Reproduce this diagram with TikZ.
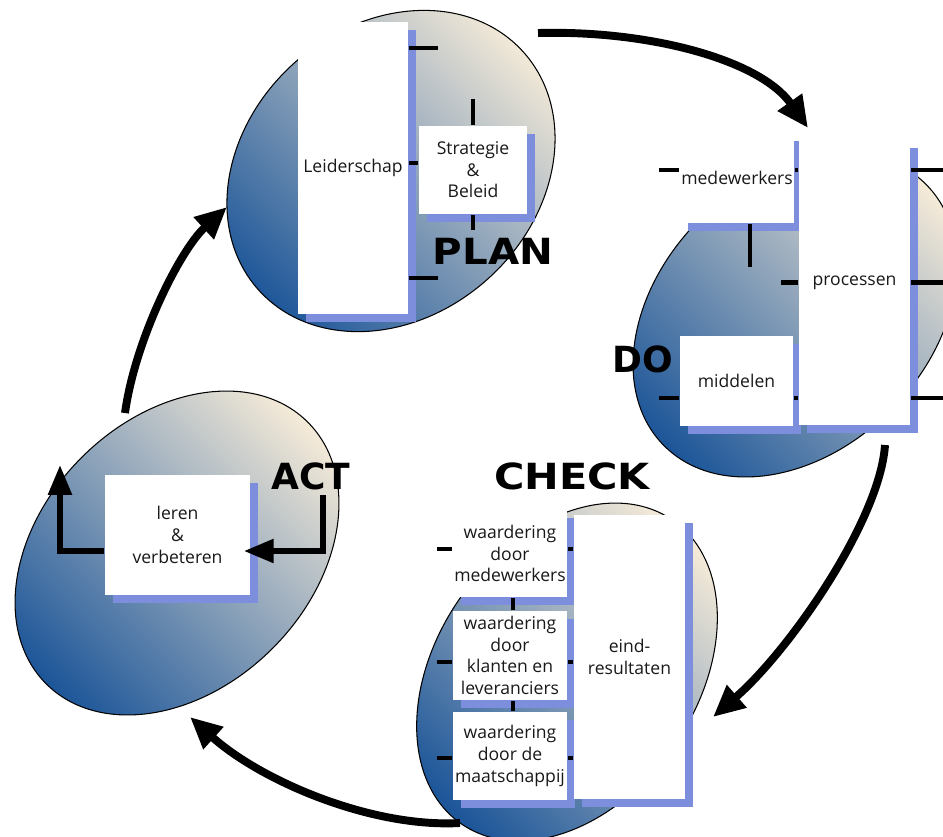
\documentclass[tikz,border=0pt]{standalone}
\usepackage{fontspec}
\usepackage{tikz}
\usetikzlibrary{arrows.meta, shadows}
\newfontfamily\boxfont{Open Sans}
\newfontfamily\stagefont{DejaVu Sans}
\definecolor{blobblue}{RGB}{29,86,153}
\definecolor{blobcream}{RGB}{244,234,216}
\definecolor{shadowblue}{RGB}{125,143,220}
\definecolor{boxtext}{RGB}{25,25,25}

\begin{document}
\begin{tikzpicture}[x = 0.02cm, y = -0.02cm, line width = 1pt,
				blob/.style = {draw = black, line width = 0.6pt,
				top color = blobcream, bottom color = blobblue,
				shading angle = -45},
				box/.style = {rectangle, fill = white, inner sep = 0pt,
				align = center, text = boxtext,
				font = \boxfont\fontsize{10}{12.3}\selectfont,
				drop shadow = {shadow xshift = 0.16cm, shadow yshift = -0.16cm,
				fill = shadowblue, opacity = 1}},
				tick/.style = {draw = black, line width = 2.3pt},
				stage/.style = {inner sep = 0pt,
				font = \stagefont\bfseries\fontsize{20.5}{20.5}\selectfont},
				roundarrow/.style = {draw = black, line width = 4.5pt,
				-{Triangle[length = 18pt, width = 16pt]}},
				actarrow/.style = {draw = black, line width = 3.4pt,
				-{Triangle[length = 17pt, width = 13pt]}},
				]

				\useasboundingbox (0,0) rectangle (943,836);
				\clip (0,0) rectangle (943,836);

				% the four blobs
				\coordinate (plan_c) at (391,171);
				\coordinate (do_c) at (795,315);
				\coordinate (check_c) at (567,672);
				\coordinate (act_c) at (177,553);
				\shade [blob, rotate around = {42:(plan_c)}] (plan_c) ellipse [x radius = 178, y radius = 145];
				\shade [blob, rotate around = {45:(do_c)}] (do_c) ellipse [x radius = 185, y radius = 135];
				\shade [blob, rotate around = {55:(check_c)}] (check_c) ellipse [x radius = 185, y radius = 130];
				\shade [blob, rotate around = {45:(act_c)}] (act_c) ellipse [x radius = 185, y radius = 135];

				% plan
				\node [box, minimum width = 2.2cm, minimum height = 5.86cm] (plan_1) at (353,168) {Leiderschap};
				\node [box, minimum width = 2.16cm, minimum height = 1.78cm] (plan_2) at (473,170) {Strategie\\\&\\Beleid};
				\draw [tick] (plan_1.east |- 0,48) -- +(29,0);
				\draw [tick] (plan_1.east |- 0,163) -- +(9,0);
				\draw [tick] (plan_1.east |- 0,278) -- +(29,0);
				\draw [tick] (plan_2.north) -- +(0,-26);
				\draw [tick] (plan_2.south) -- +(0,15);

				% do
				\node [box, minimum width = 2.28cm, minimum height = 1.8cm] (do_1) at (737,178) {medewerkers};
				\node [box, minimum width = 2.26cm, minimum height = 1.8cm] (do_3) at (736.5,381) {middelen};
				\node [box, minimum width = 2.22cm, minimum height = 5.7cm] (do_2) at (854.5,282.5) {processen};
				\draw [tick] (do_1.west |- 0,170) -- +(-20,0);
				\draw [tick] (do_1.east |- 0,170) -- (do_2.west |- 0,170);
				\draw [tick] (do_1.south -| 750,0) -- +(0,43);
				\draw [tick] (do_2.west) -- +(-17,0);
				\draw [tick] (do_2.east |- 0,170) -- +(32,0);
				\draw [tick] (do_2.east) -- +(32,0);
				\draw [tick] (do_2.east |- 0,398) -- +(32,0);
				\draw [tick] (do_3.west |- 0,398) -- +(-20,0);
				\draw [tick] (do_3.east |- 0,398) -- (do_2.west |- 0,398);

				% check
				\node [box, minimum width = 2.28cm, minimum height = 1.74cm] (check_1) at (510,553.5) {waardering\\door\\medewerkers};
				\node [box, minimum width = 2.28cm, minimum height = 1.78cm] (check_2) at (510,655.5) {waardering\\door\\klanten en\\leveranciers};
				\node [box, minimum width = 2.28cm, minimum height = 1.76cm] (check_3) at (510,756) {waardering\\door de\\maatschappij};
				\node [box, minimum width = 2.22cm, minimum height = 5.68cm] (check_4) at (629.5,657) {eind-\\resultaten};
				\draw [tick] (check_1.west |- 0,549) -- +(-15,0);
				\draw [tick] (check_2.west |- 0,662) -- +(-15,0);
				\draw [tick] (check_3.west |- 0,758) -- +(-15,0);
				\draw [tick] (check_1.east |- 0,549) -- (check_4.west |- 0,549);
				\draw [tick] (check_2.east |- 0,662) -- (check_4.west |- 0,662);
				\draw [tick] (check_3.east |- 0,758) -- (check_4.west |- 0,758);
				\draw [tick] (check_1.south -| 513,0) -- (check_2.north -| 513,0);
				\draw [tick] (check_2.south -| 513,0) -- (check_3.north -| 513,0);

				% act
				\node [box, minimum width = 2.9cm, minimum height = 2.4cm] (act_1) at (177.5,535) {leren\\\&\\verbeteren};
				\coordinate (act_in) at (323,495);
				\coordinate (act_out) at (60,465);
				\draw [actarrow, shorten >= -4pt] (act_in) |- (act_1.east |- 0,551);
				\draw [actarrow] (act_1.west |- 0,551) -| (act_out);

				% stage names
				\node [stage] (plan_l) at (493,251) {\scalebox{1.12}[1]{PLAN}};
				\node [stage] (do_l) at (643,359) {DO};
				\node [stage] (check_l) at (572,476) {\scalebox{1.15}[1]{CHECK}};
				\node [stage] (act_l) at (311,476) {ACT};

				% the cycle
				\coordinate (r_1) at (538,33);
				\coordinate (r_2) at (808,128);
				\coordinate (r_3) at (885,445);
				\coordinate (r_4) at (713,717);
				\coordinate (r_5) at (460,823);
				\coordinate (r_6) at (190,717);
				\coordinate (r_7) at (125,413);
				\coordinate (r_8) at (227,207);
				\draw [roundarrow] (r_1) .. controls (650,30) and (760,60) .. (r_2);
				\draw [roundarrow] (r_3) .. controls (880,520) and (790,650) .. (r_4);
				\draw [roundarrow] (r_5) .. controls (370,828) and (260,780) .. (r_6);
				\draw [roundarrow] (r_7) .. controls (135,340) and (180,250) .. (r_8);
			\end{tikzpicture}
\end{document}
